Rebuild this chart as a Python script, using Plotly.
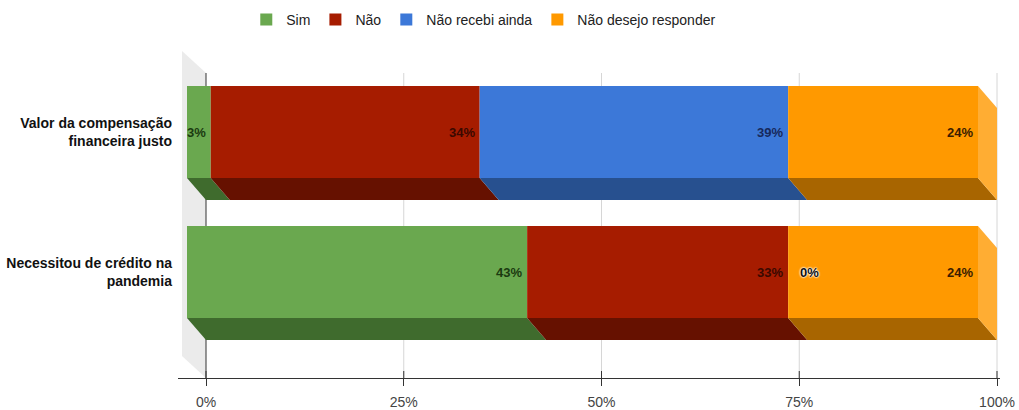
import plotly.graph_objects as go

# ---- data ----
categories = ["Valor da compensação<br>financeira justo", "Necessitou de crédito na<br>pandemia"]
series_names = ["Sim", "Não", "Não recebi ainda", "Não desejo responder"]
sim = [3, 43]
nao = [34, 33]
nao_recebi = [39, 0]
nao_desejo = [24, 24]
tick_vals = [0, 25, 50, 75, 100]
tick_text = ["0%", "25%", "50%", "75%", "100%"]

series_values = [sim, nao, nao_recebi, nao_desejo]
face_colors = ["#6aa84f", "#a61c00", "#3c78d8", "#ff9900"]
bottom_colors = ["#3f6b2d", "#661100", "#27508f", "#a86500"]
side_colors = ["#87bd6d", "#c4452a", "#6796e0", "#ffad33"]
label_colors = ["#1b3a10", "#3a0900", "#17295c", "#3b1d00"]

# ---- geometry (styling) ----
W, H = 1019, 410
ML, MR, MT, MB = 178, 19, 40, 32
PX_PER_UNIT = 7.91
X0 = -28 / PX_PER_UNIT
X1 = X0 + (W - ML - MR) / PX_PER_UNIT
DX = 19 / PX_PER_UNIT      # depth shift of bars (x units)
DY = 22                    # depth shift (y units = px)
WDX = 24 / PX_PER_UNIT     # depth shift of left wall
PLOT_H = H - MT - MB
BAR_HALF = 46
ROW_SPACING = 140
FIRST_CENTER = 224
WALL_TOP = 305
LABEL_FONT = "Liberation Sans, Arial"

fig = go.Figure()

def poly(xs, ys, color):
    fig.add_trace(go.Scatter(x=xs + [xs[0]], y=ys + [ys[0]], mode="lines", fill="toself",
                             fillcolor=color, line=dict(width=0, color=color),
                             hoverinfo="skip", showlegend=False))

# left wall
poly([-WDX, 0, 0, -WDX], [DY, 0, WALL_TOP, WALL_TOP + DY], "#ebebeb")

# gridlines
for t in tick_vals:
    fig.add_trace(go.Scatter(x=[t, t], y=[0, WALL_TOP], mode="lines",
                             line=dict(color="#333333" if t == 0 else "#d6d6d6", width=1),
                             hoverinfo="skip", showlegend=False))
    # upper half of crossing tick marks
    fig.add_trace(go.Scatter(x=[t, t], y=[0, 7], mode="lines",
                             line=dict(color="#333333", width=1),
                             hoverinfo="skip", showlegend=False))

annotations = []
for i, cat in enumerate(categories):
    bc = FIRST_CENTER - ROW_SPACING * i
    bb, bt = bc - BAR_HALF, bc + BAR_HALF
    fb, ft = bb + DY, bt + DY
    segs = []
    a = 0
    for k, vals in enumerate(series_values):
        b = a + vals[i]
        segs.append((k, a, b))
        a = b
    # bottom faces
    for k, a, b in segs:
        if b > a:
            poly([a - DX, b - DX, b, a], [fb, fb, bb, bb], bottom_colors[k])
    # front faces
    for k, a, b in segs:
        if b > a:
            poly([a - DX, b - DX, b - DX, a - DX], [fb, fb, ft, ft], face_colors[k])
    # right side face of last segment
    last = [s for s in segs if s[2] > s[1]][-1]
    k, a, b = last
    poly([b - DX, b, b, b - DX], [fb, bb, bt, ft], side_colors[k])
    # labels
    for k, a, b in segs:
        v = b - a
        if v > 0:
            annotations.append(dict(x=b - DX, y=(fb + ft) / 2, xref="x", yref="y",
                                    text=f"<b>{v}%</b>", showarrow=False, xanchor="right",
                                    xshift=-3, font=dict(size=13, color=label_colors[k],
                                                         family=LABEL_FONT)))
        else:
            annotations.append(dict(x=b - DX, y=(fb + ft) / 2, xref="x", yref="y",
                                    text=f"<b>{v}%</b>", showarrow=False, xanchor="left",
                                    xshift=10, font=dict(size=13, color="#111111",
                                                         family=LABEL_FONT,
                                                         shadow="0 0 2px white, 0 0 2px white, 0 0 2px white")))

# legend entries
for name, c in zip(series_names, face_colors):
    fig.add_trace(go.Scatter(x=[None], y=[None], mode="markers", name=name,
                             marker=dict(symbol="square", size=12, color=c)))

y_tickvals = [FIRST_CENTER - ROW_SPACING * i + DY for i in range(len(categories))]

fig.update_layout(
    width=W, height=H,
    margin=dict(l=ML, r=MR, t=MT, b=MB, autoexpand=False),
    paper_bgcolor="white", plot_bgcolor="white",
    font=dict(family="Liberation Sans, Arial", size=14, color="#222222"),
    xaxis=dict(range=[X0, X1], showgrid=False, zeroline=False, showline=True,
               linecolor="#333333", linewidth=1, tickvals=tick_vals, ticktext=tick_text,
               ticks="outside", ticklen=7, tickcolor="#333333", ticklabelstandoff=4,
               tickfont=dict(size=14, color="#444444"), fixedrange=True, automargin=False),
    yaxis=dict(range=[0, PLOT_H], showgrid=False, zeroline=False, showline=False,
               tickvals=y_tickvals, ticktext=[f"<b>{c}</b>" for c in categories],
               ticks="", ticklabelstandoff=5, automargin=False,
               tickfont=dict(size=14, color="#111111"), fixedrange=True),
    legend=dict(orientation="h", x=0.372, xanchor="center", y=1 + 20 / PLOT_H,
                yanchor="middle", font=dict(size=14, color="#222222"),
                itemwidth=30, tracegroupgap=0),
    annotations=annotations,
    showlegend=True,
)

fig.write_html("out.html", config={"displayModeBar": False},
               post_script="document.body.style.margin='0';document.body.style.padding='0';")
